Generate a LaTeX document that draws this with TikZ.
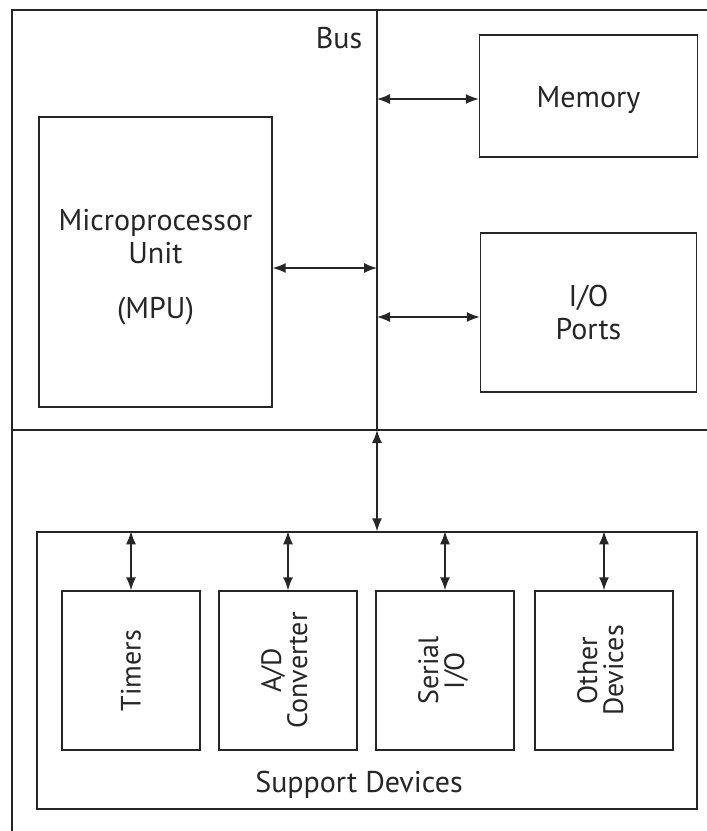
\documentclass[tikz,border=0pt]{standalone}
\usepackage{fontspec}
\setmainfont{PT Sans}
\usetikzlibrary{arrows.meta}
\begin{document}
\begin{tikzpicture}[x=1pt,y=-1pt,
  ln/.style={draw=black!85,line width=1.4pt},
  box/.style={ln,rectangle,inner sep=0pt,align=center,text=black!85,
    font=\fontsize{30}{33}\selectfont},
  rbox/.style={box,minimum width=138pt,minimum height=159pt,font=\fontsize{28}{30}\selectfont},
  lbl/.style={text=black!85,inner sep=0pt,align=center,font=\fontsize{30}{33}\selectfont},
  arr/.style={ln,{Latex[length=13pt,width=10pt]}-{Latex[length=13pt,width=10pt]}}]
\useasboundingbox (0,0) rectangle (707,831);
% frame and bus
\coordinate (ftr) at (707,10);
\coordinate (fbl) at (12,831);
\coordinate (hl) at (12,430);
\coordinate (hr) at (707,430);
\coordinate (bustop) at (377,10);
\coordinate (busbot) at (377,430);
\draw[ln] (ftr) -| (fbl);
\draw[ln] (hl) -- (hr);
\draw[ln] (bustop) -- (busbot);
\node[lbl] (buslbl) at (339,38) {Bus};
% top boxes
\node[box,minimum width=233pt,minimum height=290pt] (mpu) at (155.5,262) {};
\node[lbl] (mputxt) at ([yshift=-5pt]mpu.center) {Microprocessor\\Unit\\[22pt](MPU)};
\node[box,minimum width=218pt,minimum height=122pt] (mem) at (588.5,96) {};
\node[lbl] (memtxt) at ([yshift=-4pt]mem.center) {Memory};
\node[box,minimum width=216pt,minimum height=159pt] (io) at (588.5,312.5) {I/O\\Ports};
\draw[arr] ([yshift=-6pt]mpu.east) -- ([yshift=-6pt]mpu.east -| bustop);
\draw[arr] ([yshift=-3pt]mem.west -| bustop) -- ([yshift=-3pt]mem.west);
\draw[arr] ([yshift=-4.5pt]io.west -| bustop) -- ([yshift=-4.5pt]io.west);
% support devices
\node[box,minimum width=660pt,minimum height=277pt] (sup) at (367,670.5) {};
\node[lbl] (suplbl) at (359,785) {Support Devices};
\draw[arr] (busbot) -- (busbot |- sup.north);
\node[rbox] (tim) at (131,670.5) {\rotatebox{90}{Timers}};
\node[rbox] (ad) at (288,670.5) {\rotatebox{90}{\begin{tabular}{@{}c@{}}A/D\\[-4pt]Converter\end{tabular}}};
\node[rbox] (ser) at (445,670.5) {\rotatebox{90}{\begin{tabular}{@{}c@{}}Serial\\[-4pt]I/O\end{tabular}}};
\node[rbox] (oth) at (604,670.5) {\rotatebox{90}{\begin{tabular}{@{}c@{}}Other\\[-4pt]Devices\end{tabular}}};
\foreach \b in {tim,ad,ser,oth}
  \draw[arr] (\b.north |- sup.north) -- (\b.north);
\end{tikzpicture}
\end{document}
